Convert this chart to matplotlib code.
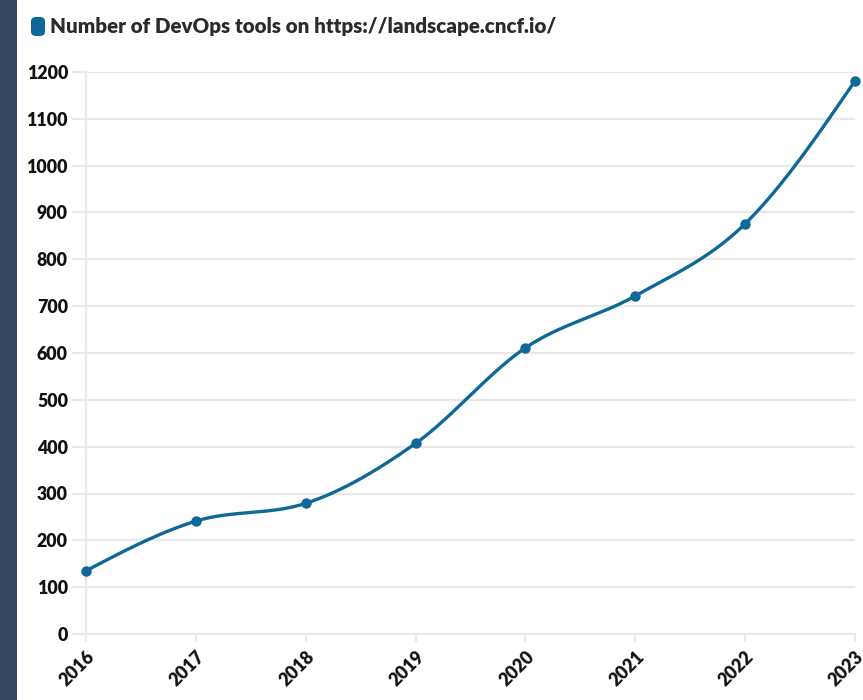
import numpy as np
import matplotlib.pyplot as plt
from matplotlib.patches import Rectangle, FancyBboxPatch

years = [2016, 2017, 2018, 2019, 2020, 2021, 2022, 2023]
tools = [135, 241, 279, 407, 611, 722, 876, 1181]
y_ticks = list(range(0, 1300, 100))

line_color = '#0f6897'
grid_color = '#e9e9e9'


def monotone_curve(x, y, steps=40):
    # monotone cubic (same rule as d3.curveMonotoneX), drawn as bezier segments
    x = np.asarray(x, dtype=float)
    y = np.asarray(y, dtype=float)
    n = len(x)
    h = np.diff(x)
    s = np.diff(y) / h
    t = np.zeros(n)
    for i in range(1, n - 1):
        p = (s[i - 1] * h[i] + s[i] * h[i - 1]) / (h[i - 1] + h[i])
        t[i] = (np.sign(s[i - 1]) + np.sign(s[i])) * min(abs(s[i - 1]), abs(s[i]), 0.5 * abs(p))
    t[0] = (3 * s[0] - t[1]) / 2
    t[-1] = (3 * s[-1] - t[-2]) / 2
    xs, ys = [], []
    u = np.linspace(0, 1, steps)
    for i in range(n - 1):
        dx = h[i] / 3
        px = [x[i], x[i] + dx, x[i + 1] - dx, x[i + 1]]
        py = [y[i], y[i] + dx * t[i], y[i + 1] - dx * t[i + 1], y[i + 1]]
        b = [(1 - u) ** 3, 3 * (1 - u) ** 2 * u, 3 * (1 - u) * u ** 2, u ** 3]
        xs.append(sum(bk * pk for bk, pk in zip(b, px)))
        ys.append(sum(bk * pk for bk, pk in zip(b, py)))
    return np.concatenate(xs), np.concatenate(ys)


plt.rcParams['font.family'] = ['Lato', 'DejaVu Sans']

fig = plt.figure(figsize=(8.63, 7), dpi=100)
fig.patches.append(Rectangle((0, 0), 17 / 863, 1, transform=fig.transFigure,
                             facecolor='#34495f', edgecolor='none'))

ax = fig.add_axes([86 / 863, 1 - 634 / 700, (855 - 86) / 863, (634 - 72) / 700])

cx, cy = monotone_curve(years, tools)
ax.plot(cx, cy, color=line_color, linewidth=2.4, clip_on=False, zorder=3)
ax.plot(years, tools, 'o', color=line_color, markersize=6.5, clip_on=False, zorder=4)

ax.set_xlim(2016, 2023)
ax.set_ylim(0, 1200)
ax.set_xticks(years)
ax.set_yticks(y_ticks)
ax.set_xticklabels([str(y) for y in years], rotation=45, ha='right', rotation_mode='anchor')

ax.grid(axis='y', color=grid_color, linewidth=1.6)
ax.set_axisbelow(True)
for side in ['top', 'right']:
    ax.spines[side].set_visible(False)
for side in ['left', 'bottom']:
    ax.spines[side].set_color(grid_color)
    ax.spines[side].set_linewidth(1.6)

ax.tick_params(axis='y', length=10, width=1.6, color=grid_color, pad=3,
               labelsize=12.8, labelcolor='#111111')
ax.tick_params(axis='x', length=6, width=1.6, color=grid_color, pad=4,
               labelsize=12.8, labelcolor='#111111')
for lab in ax.get_xticklabels() + ax.get_yticklabels():
    lab.set_fontweight('heavy')

# legend swatch + title
fig.patches.append(FancyBboxPatch((31 / 863, 1 - 36 / 700), 14 / 863, 19 / 700,
                                  boxstyle='round,pad=0,rounding_size=0.006',
                                  transform=fig.transFigure, facecolor=line_color,
                                  edgecolor='none'))
fig.text(50 / 863, 1 - 27 / 700, 'Number of DevOps tools on https://landscape.cncf.io/',
         fontsize=14.8, fontweight='heavy', color='#2b2b2b', va='center', ha='left')

fig.savefig('out.png', dpi=100)
